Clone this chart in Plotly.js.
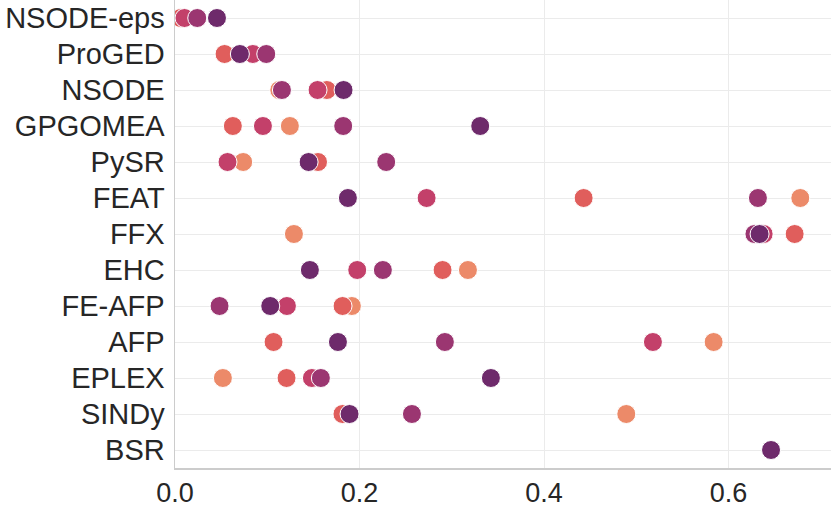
<!DOCTYPE html>
<html>
<head>
<meta charset="utf-8">
<script src="https://cdn.plot.ly/plotly-3.0.1.min.js"></script>
<style>
  html, body { margin: 0; padding: 0; background: #fff; }
  #chart { width: 831px; height: 507px; }
</style>
</head>
<body>
<div id="chart"></div>
<script>
// === Data === //
var methods = ['NSODE-eps', 'ProGED', 'NSODE', 'GPGOMEA', 'PySR', 'FEAT', 'FFX',
               'EHC', 'FE-AFP', 'AFP', 'EPLEX', 'SINDy', 'BSR'];

// one array per hue level, same order as methods (null = no point)
var hueOrange = [null, null, 0.113, 0.1245, 0.0739, 0.6777, 0.1289, 0.3175, 0.1917, 0.5838, 0.0519, 0.4891, null];
var hueRed    = [0.006, 0.0537, 0.1646, 0.0627, 0.1550, 0.4429, 0.6716, 0.2900, 0.1816, 0.1068, 0.1209, 0.1815, null];
var huePink   = [0.0103, 0.0844, 0.1545, 0.0953, 0.0569, 0.2727, 0.638, 0.1975, 0.1213, 0.518, 0.1484, null, null];
var huePurple = [0.0241, 0.0989, 0.1159, 0.1823, 0.2289, 0.6318, 0.628, 0.2253, 0.0483, 0.2925, 0.1581, 0.2568, null];
var hueDark   = [0.0455, 0.0703, 0.1827, 0.3308, 0.1448, 0.1874, 0.6336, 0.1462, 0.1032, 0.1766, 0.3424, 0.1892, 0.646];

var hueSeries = [hueOrange, hueRed, huePink, huePurple, hueDark];
var hueColors = ['#ec8a69', '#e05e5c', '#c3406a', '#9b3671', '#6e2a6b'];

// === Build traces (lighter first, darker drawn on top) === //
var traces = [];
hueSeries.forEach(function(vals, k){
    var xs = [], ys = [];
    for(var i = 0; i < methods.length; i++){
        if(vals[i] !== null){
            xs.push(vals[i]);
            ys.push(methods[i]);
        }
    }
    traces.push({
        x: xs,
        y: ys,
        type: 'scatter',
        mode: 'markers',
        showlegend: false,
        hoverinfo: 'x+y',
        marker: {
            size: 19,
            color: hueColors[k],
            line: {color: '#ffffff', width: 1}
        }
    });
});

var layout = {
    width: 831,
    height: 507,
    margin: {l: 175, r: 0, t: 0, b: 39},
    paper_bgcolor: '#ffffff',
    plot_bgcolor: '#ffffff',
    font: {family: '"Liberation Sans", Arial, sans-serif', size: 29, color: '#262626'},
    xaxis: {
        range: [0, 0.711],
        tickvals: [0, 0.2, 0.4, 0.6],
        ticktext: ['0.0', '0.2', '0.4', '0.6'],
        tickfont: {size: 27},
        showgrid: true,
        gridcolor: '#ebebeb',
        gridwidth: 1,
        zeroline: false,
        showline: true,
        linecolor: '#cccccc',
        linewidth: 1.5,
        ticks: '',
        ticklabelstandoff: 0
    },
    yaxis: {
        type: 'category',
        categoryorder: 'array',
        categoryarray: methods,
        range: [12.5, -0.5],
        showgrid: true,
        gridcolor: '#ebebeb',
        gridwidth: 1,
        zeroline: false,
        showline: true,
        linecolor: '#cccccc',
        linewidth: 1.5,
        ticks: '',
        ticklabelstandoff: 3
    }
};

Plotly.newPlot('chart', traces, layout, {displayModeBar: false, staticPlot: true});
</script>
</body>
</html>
